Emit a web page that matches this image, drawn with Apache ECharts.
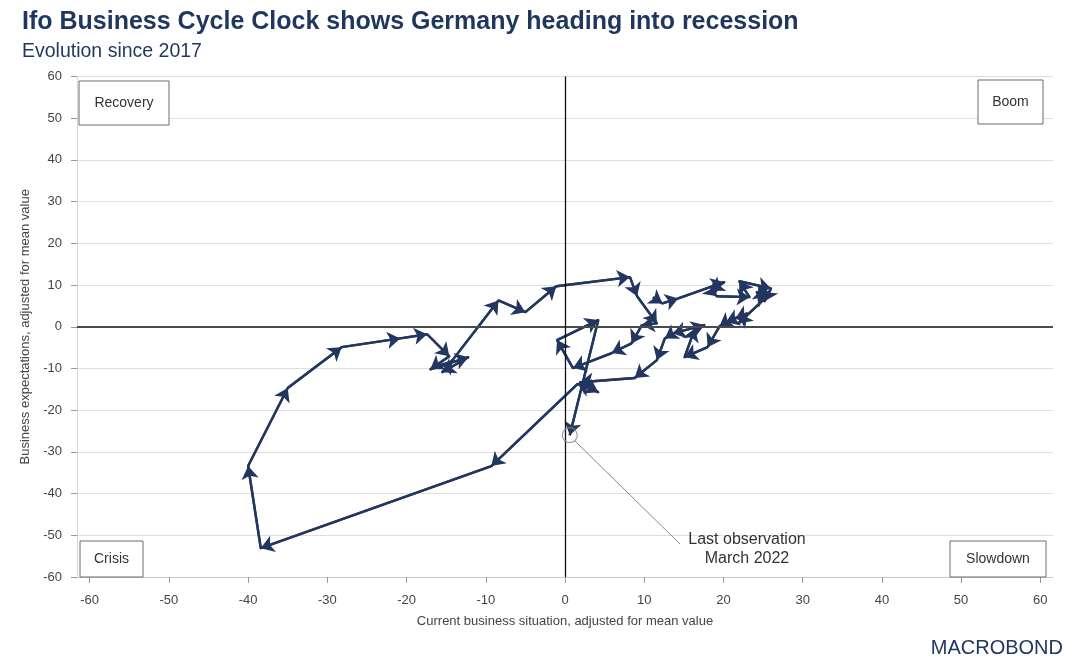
<!DOCTYPE html>
<html>
<head>
<meta charset="utf-8">
<script src="https://cdn.jsdelivr.net/npm/echarts@6/dist/echarts.min.js"></script>
<style>html,body{margin:0;padding:0;background:#fff;}#c{width:1080px;height:668px;}</style>
</head>
<body>
<div id="c"></div>
<script>
// Ifo Business Cycle Clock, monthly path since 2017
const currentSituation = [11.1,12.3,14.3,20.1,18.4,19.2,23.3,22.0,26.0,25.2,24.2,25.5,
  21.9,23.0,21.5,20.3,19.5,18.0,15.1,16.4,17.6,13.6,12.6,11.6,8.8,1.9,4.2,1.6,
  -9.3,-38.4,-40.0,-35.0,-28.2,-20.8,-17.4,-14.6,-17.0,-12.2,-15.5,-14.2,
  -8.4,-5.0,-1.1,8.2,9.1,11.6,9.7,8.4,5.9,1.0,-1.0,4.2,0.6];
const businessExpectations = [7.1,5.6,6.8,10.7,8.7,7.3,7.1,10.9,9.2,6.1,8.3,7.3,
  0.8,3.2,2.0,1.1,0.1,-4.9,-7.3,-0.4,0.4,-1.6,-2.8,-8.0,-12.3,-13.3,-15.7,-13.7,
  -33.4,-53.1,-33.4,-14.7,-4.9,-2.8,-1.8,-7.1,-10.2,-7.3,-10.9,-8.0,
  6.3,3.5,9.7,11.9,7.3,0.8,0.4,-4.0,-6.3,-9.9,-3.2,1.6,-26.0];
const xTicks = [-60,-50,-40,-30,-20,-10,0,10,20,30,40,50,60];
const quadrantNames = ['Recovery','Boom','Crisis','Slowdown'];
const annotationText = 'Last observation\nMarch 2022';

const navy = '#22365f';
const path = currentSituation.map((x, i) => [x, businessExpectations[i]]);
const segments = [];
for (let i = 1; i < path.length; i++) segments.push({ coords: [path[i - 1], path[i]] });
const last = path[path.length - 1];

const chart = echarts.init(document.getElementById('c'), null, { renderer: 'canvas' });
const font = 'Liberation Sans, Arial, sans-serif';

function box(x, y, w, h, txt) {
  return {
    type: 'group', children: [
      { type: 'rect', shape: { x: x, y: y, width: w, height: h }, style: { fill: '#fff', stroke: '#6b6b6b', lineWidth: 1 }, z: 10 },
      { type: 'text', x: x + w / 2, y: y + h / 2, style: { text: txt, fill: '#333', font: '14px ' + font, align: 'center', verticalAlign: 'middle' }, z: 11 }
    ]
  };
}

chart.setOption({
  animation: false,
  backgroundColor: '#fff',
  title: [
    { text: 'Ifo Business Cycle Clock shows Germany heading into recession', left: 17, top: 5,
      textStyle: { fontFamily: font, fontSize: 25, fontWeight: 'bold', color: '#1f365f' } },
    { text: 'Evolution since 2017', left: 17, top: 37,
      textStyle: { fontFamily: font, fontSize: 19.5, fontWeight: 'normal', color: '#1f365f' } }
  ],
  grid: { left: 77, right: 27, top: 76.5, bottom: 91, containLabel: false },
  xAxis: {
    type: 'value', min: -61.6, max: 61.6,
    name: 'Current business situation, adjusted for mean value',
    nameLocation: 'middle', nameGap: 38,
    nameTextStyle: { fontFamily: font, fontSize: 13, color: '#444' },
    axisLine: { onZero: false, lineStyle: { color: '#c8c8c8', width: 1 } },
    axisTick: { show: true, length: 6, customValues: xTicks, lineStyle: { color: '#999' } },
    axisLabel: { customValues: xTicks, margin: 17, fontFamily: font, fontSize: 13, color: '#444' },
    splitLine: { show: false }
  },
  yAxis: {
    type: 'value', min: -60, max: 60, interval: 10,
    name: 'Business expectations, adjusted for mean value',
    nameLocation: 'middle', nameGap: 35, nameRotate: 90,
    nameTextStyle: { fontFamily: font, fontSize: 13, color: '#444' },
    axisLine: { show: true, onZero: false, lineStyle: { color: '#d6d6d6', width: 1 } },
    axisTick: { show: true, length: 6, lineStyle: { color: '#999' } },
    axisLabel: { margin: 15, fontFamily: font, fontSize: 13, color: '#444' },
    splitLine: { show: true, lineStyle: { color: '#dedede', width: 1 } }
  },
  series: [
    {
      type: 'line', data: path, symbol: 'none', z: 3,
      lineStyle: { color: navy, width: 2.4, join: 'round' },
      markLine: {
        silent: true, symbol: 'none', animation: false,
        label: { show: false },
        data: [
          { yAxis: 0, lineStyle: { color: '#4a4a4a', width: 2, type: 'solid' } },
          { xAxis: 0, lineStyle: { color: '#111', width: 1.3, type: 'solid' } }
        ]
      }
    },
    {
      type: 'lines', coordinateSystem: 'cartesian2d', data: segments, z: 4,
      symbol: ['none', 'arrow'], symbolSize: 13,
      lineStyle: { color: navy, width: 2.4, opacity: 1 }
    },
    {
      type: 'scatter', data: [last], symbol: 'circle', symbolSize: 15, z: 5,
      itemStyle: { color: 'rgba(255,255,255,0)', borderColor: '#8a8a8a', borderWidth: 1.2 }
    }
  ],
  graphic: [
    box(79, 81, 90, 44, quadrantNames[0]),
    box(978, 80, 65, 44, quadrantNames[1]),
    box(80, 541, 63, 36, quadrantNames[2]),
    box(950, 541, 96, 36, quadrantNames[3]),
    { type: 'line', shape: { x1: 575, y1: 441, x2: 680, y2: 544 }, style: { stroke: '#8a8a8a', lineWidth: 1 }, z: 6 },
    { type: 'text', x: 747, y: 549, style: { text: annotationText, fill: '#333', font: '16px ' + font, align: 'center', verticalAlign: 'middle', lineHeight: 19 }, z: 6 },
    { type: 'text', x: 1063, y: 648, style: { text: 'MACROBOND', fill: '#22365f', font: '20px ' + font, align: 'right', verticalAlign: 'middle' }, z: 6 }
  ]
});
</script>
</body>
</html>
